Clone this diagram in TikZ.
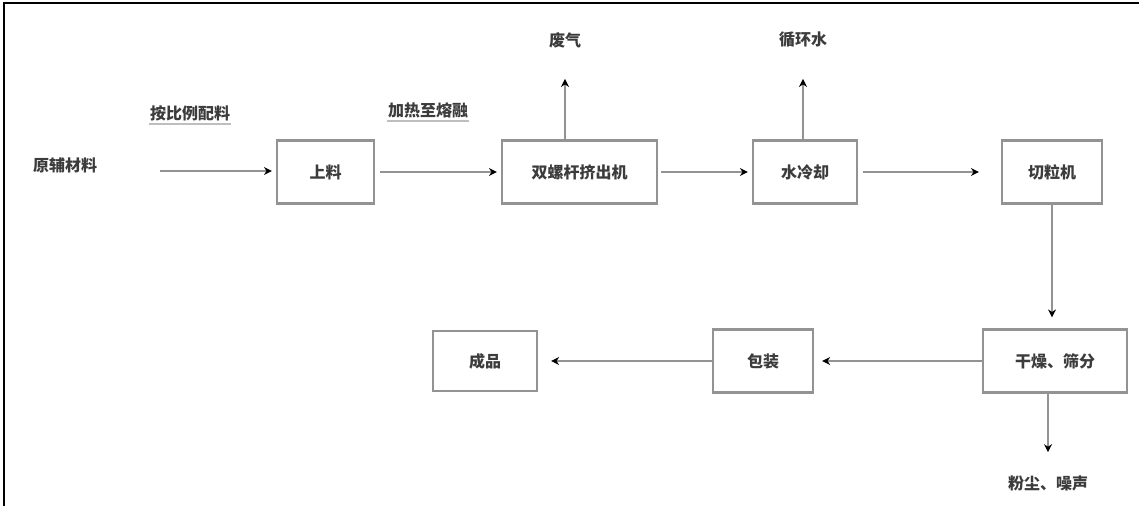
\documentclass[tikz,border=0pt]{standalone}
\usepackage{fontspec}
\setmainfont{Noto Sans CJK SC}
\usetikzlibrary{arrows.meta}
\definecolor{boxgray}{HTML}{939393}
\definecolor{txtgray}{HTML}{3C3C3C}
\begin{document}
\begin{tikzpicture}[x=1pt,y=-1pt,
  procbox/.style={draw=boxgray,line width=2.2pt,minimum width=#1,minimum height=63pt,inner sep=0pt,text=txtgray,font=\fontsize{16}{18}\selectfont\bfseries},
  procbox/.default=100pt,
  lbl/.style={text=txtgray,font=\fontsize{16}{18}\selectfont\bfseries,inner sep=1pt},
  flow/.style={draw=boxgray,line width=2pt,-{Stealth[length=8pt,width=8pt,black]}}]
\useasboundingbox (0,0) rectangle (1139,506);
\fill[white] (0,0) rectangle (1139,506);
% frame
\draw[black,line width=2.5pt] (4,506) -- (4,3) -- (1139,3);
% boxes
\node[procbox=97pt]  (b1) at (325.5,172) {上料};
\node[procbox=155pt] (b2) at (579.5,172) {双螺杆挤出机};
\node[procbox=104pt] (b3) at (805,172)   {水冷却};
\node[procbox=100pt] (b4) at (1052,172)  {切粒机};
\node[procbox=144pt] (b5) at (1055,361)  {干燥、筛分};
\node[procbox=100pt] (b6) at (763,361)   {包装};
\node[procbox=104pt,minimum height=60pt] (b7) at (485,361) {成品};
% labels
\node[lbl] (src) at (65,165) {原辅材料};
\node[lbl] (l1) at (190,113) {按比例配料};
\node[lbl] (l2) at (428,110) {加热至熔融};
\node[lbl] (w1) at (565,40) {废气};
\node[lbl] (w2) at (803,40) {循环水};
\node[lbl] (w3) at (1048,483) {粉尘、噪声};
\draw[boxgray!60,line width=1.2pt] ([yshift=-2pt]l1.south west) -- ([yshift=-2pt]l1.south east);
\draw[boxgray!60,line width=1.2pt] ([yshift=-2pt]l2.south west) -- ([yshift=-2pt]l2.south east);
% connectors
\coordinate (s1) at (160,171);
\draw[flow,shorten >=4pt] (s1) -- (s1 -| b1.west);
\draw[flow,shorten <=5pt,shorten >=4pt] (b1.east) -- (b2.west);
\draw[flow,shorten <=3pt,shorten >=4pt] (b2.east) -- (b3.west);
\draw[flow,shorten <=5pt,shorten >=22pt] (b3.east) -- (b4.west);
\draw[flow,shorten >=11pt] (b4.south) -- (b4.south |- b5.north);
\draw[flow,shorten >=8pt] (b5.west) -- (b6.east);
\draw[flow,shorten >=13pt] (b6.west) -- (b7.east);
\draw[flow,shorten >=30pt] (b2.north -| w1) -- (w1.south);
\draw[flow,shorten >=30pt] (b3.north -| w2) -- (w2.south);
\draw[flow,shorten >=22pt] (b5.south -| w3) -- (w3.north);
\end{tikzpicture}
\end{document}
